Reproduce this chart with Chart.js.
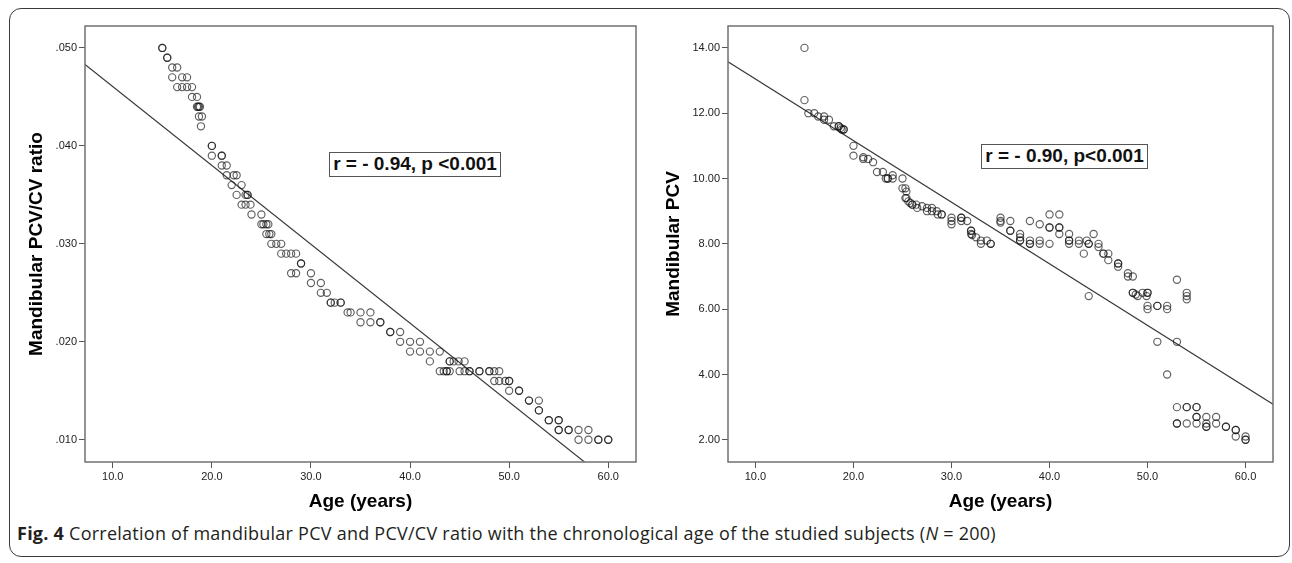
<!DOCTYPE html>
<html><head><meta charset="utf-8">
<script src="https://cdn.jsdelivr.net/npm/chart.js@4.4.1/dist/chart.umd.min.js"></script>
<style>
html,body{margin:0;padding:0;background:#fff;width:1292px;height:563px;overflow:hidden;}
#frame{position:absolute;left:9px;top:8px;width:1281px;height:549px;box-sizing:border-box;border:1.5px solid #3a3a3a;border-radius:12px;}
canvas{position:absolute;top:0;}
#c1{left:0;}
#c2{left:640px;}
.rbox{position:absolute;box-sizing:border-box;border:1.5px solid #555;background:#fff;font:bold 19px "Liberation Sans",Arial,sans-serif;color:#111;text-align:center;line-height:21px;white-space:nowrap;}
#cap{position:absolute;left:17px;top:523px;font:18px "Open Sans",sans-serif;letter-spacing:0.25px;line-height:20px;color:#231f20;white-space:nowrap;}
#cap b{font-weight:700;}
</style></head>
<body>
<div id="frame"></div>
<canvas id="c1" width="650" height="520"></canvas>
<canvas id="c2" width="652" height="520"></canvas>
<div class="rbox" style="left:329px;top:152px;width:172px;height:25px;">r = - 0.94, p &lt;0.001</div>
<div class="rbox" style="left:981px;top:144px;width:167px;height:25px;">r = - 0.90, p&lt;0.001</div>
<div id="cap"><b>Fig. 4</b> Correlation of mandibular PCV and PCV/CV ratio with the chronological age of the studied subjects (<i>N</i> = 200)</div>
<script>
// ---- Left panel: PCV/CV ratio, grouped by ratio level ----
const leftRatioLevels = [0.050,0.049,0.048,0.047,0.046,0.045,0.044,0.043,0.042,0.040,0.039,0.038,0.037,0.036,0.035,0.034,0.033,0.032,0.031,0.030,0.029,0.028,0.027,0.026,0.025,0.024,0.023,0.022,0.021,0.020,0.019,0.018,0.017,0.016,0.015,0.014,0.013,0.012,0.011,0.010];
const leftAgesAtLevel = [
  [15,15],[15.5,15.5],[16,16.5],[16,17,17.5],[16.5,17,17.5,18],[18,18.5],[18.5,18.6,18.7,18.8],[18.7,19],[18.9],
  [20,20],[20,21,21],[21,21.5],[21.5,22.2,22.5],[22,23],[22.5,23.4,23.6,23.6],[23,23.4,23.9],[24,25],
  [25,25.2,25.5,25.7],[25.5,25.8,26],[26,26.5,27],[27,27.5,28,28.5],[29,29],[28,28.5,30],[30,31],[31,31.6],
  [32,32,32.4,33,33],[33.7,34,35,36],[35,36,37,37],[38,38,39],[39,40,41],[40,41,42,43],
  [42,44,44,44.4,44.9,45.5],[43,43.4,43.7,43.7,44,45,45.5,46,46,47,47,48,48,48.5,49],
  [48.5,49,49.6,50,50],[50,51,51],[52,52,53],[53,53],[54,54,55,55],[55,55,56,56,57,58],[57,58,59,59,60,60]
];
// ---- Right panel: PCV ----
const rightAges = [15,15,15.4,16,16.4,17,17,17.5,18,18.5,18.5,18.7,18.8,19,19,
  20,20,21,21,21.5,22,22.4,23,23.3,23.5,23.5,24,24,
  25,25,25.3,25.4,25.3,25.4,25.6,25.8,26,26,26.4,26.5,27,27.5,27.5,28,28,28.5,28.6,29,29,
  30,30,30,31,31,31,31.6,32,32,32,32.1,32.5,33,33,33.6,34,34,
  35,35,35,36,36,36,37,37,37,37,38,38,38,38,39,39,39,
  40,40,40,40,41,41,41,41,42,42,42,42,43,43,43.5,43.8,44,44,44,44.5,
  45,45,45.5,45.5,46,46,47,47,47,48,48,48.5,48.5,48.5,48.8,49,49.5,50,50,49.9,
  50,50,51,51,52,52,53,54,54,54,51,53,52,
  53,54,54,55,55,55,55,56,57,53,53,54,55,56,57,56,56,58,58,59,59,59,60,60,60];
const rightPCV = [14.0,12.4,12.0,12.0,11.9,11.9,11.8,11.8,11.6,11.6,11.6,11.55,11.5,11.5,11.5,
  11.0,10.7,10.65,10.6,10.6,10.5,10.2,10.2,10.0,10.0,10.0,10.1,10.0,
  10.0,9.7,9.7,9.6,9.4,9.4,9.3,9.25,9.2,9.2,9.2,9.1,9.15,9.1,9.0,9.1,9.0,9.0,8.9,8.9,8.9,
  8.8,8.7,8.6,8.8,8.8,8.7,8.7,8.4,8.4,8.3,8.27,8.2,8.1,8.0,8.1,8.0,8.0,
  8.8,8.7,8.65,8.7,8.4,8.4,8.3,8.2,8.1,8.1,8.7,8.1,8.0,8.0,8.6,8.1,8.0,
  8.9,8.5,8.5,8.0,8.9,8.5,8.5,8.3,8.3,8.1,8.1,8.0,8.1,8.0,7.7,8.1,8.0,8.0,6.4,8.3,
  8.0,7.9,7.7,7.7,7.7,7.5,7.4,7.4,7.3,7.1,7.0,7.0,6.5,6.5,6.45,6.4,6.5,6.5,6.5,6.4,
  6.1,6.0,6.1,6.1,6.1,6.0,6.9,6.5,6.4,6.3,5.0,5.0,4.0,
  3.0,3.0,3.0,3.0,3.0,2.7,2.7,2.7,2.7,2.5,2.5,2.5,2.5,2.5,2.5,2.4,2.4,2.4,2.4,2.3,2.3,2.1,2.1,2.0,2.0];
// ---- Fit lines ----
const leftFit = {intercept: 0.0541, slope: -0.000805};
const rightFit = {intercept: 14.93, slope: -0.1885};
// ---- Axes ----
const xRange = [7.2, 62.8];
const xTickValues = [10,20,30,40,50,60];
const leftYRange = [0.00773, 0.05224];
const leftYTicks = [0.010,0.020,0.030,0.040,0.050];
const rightYRange = [1.32, 14.67];
const rightYTicks = [2,4,6,8,10,12,14];

const FONT = '"Liberation Sans", Arial, sans-serif';

const framePlugin = {
  id: 'frame',
  afterDraw(chart){
    const {ctx, chartArea:a} = chart;
    ctx.save();
    ctx.strokeStyle = '#707070';
    ctx.lineWidth = 1.5;
    ctx.strokeRect(a.left, a.top, a.right - a.left, a.bottom - a.top);
    ctx.restore();
  }
};

function build(id, pts, fit, yRange, yTicks, yDigits, yTitle, g){
  const lineData = xRange.map(x => ({x, y: fit.intercept + fit.slope * x}));
  return new Chart(document.getElementById(id), {
    type: 'scatter',
    data: { datasets: [
      { data: pts, pointStyle: 'circle', pointRadius: 3.6, pointHoverRadius: 3.6,
        borderWidth: 1.15, borderColor: 'rgba(20,20,20,0.68)', backgroundColor: 'rgba(0,0,0,0)' },
      { type: 'line', data: lineData, pointRadius: 0, borderColor: '#3a3a3a', borderWidth: 1.2, clip: 0 }
    ]},
    options: {
      responsive: false, animation: false, devicePixelRatio: 1,
      layout: { padding: { top: 26, right: g.right, left: 0, bottom: 0 } },
      plugins: { legend: { display: false }, tooltip: { enabled: false } },
      scales: {
        x: {
          type: 'linear', min: xRange[0], max: xRange[1],
          afterBuildTicks: s => { s.ticks = xTickValues.map(v => ({value: v})); },
          afterFit: s => { s.height = 58; },
          border: { display: false },
          grid: { drawOnChartArea: false, drawTicks: true, tickLength: 6, color: '#555', lineWidth: 1 },
          ticks: { autoSkip: false, maxRotation: 0, padding: 2, color: '#222',
                   font: { family: FONT, size: 11 }, callback: v => Number(v).toFixed(1) },
          title: { display: true, text: 'Age (years)', color: '#000',
                   font: { family: FONT, size: 19, weight: 'bold' }, padding: { top: 0, bottom: 6.6 } }
        },
        y: {
          type: 'linear', min: yRange[0], max: yRange[1],
          afterBuildTicks: s => { s.ticks = yTicks.map(v => ({value: v})); },
          afterFit: s => { s.width = g.yWidth; },
          border: { display: false },
          grid: { drawOnChartArea: false, drawTicks: true, tickLength: 6, color: '#555', lineWidth: 1 },
          ticks: { autoSkip: false, padding: 2, color: '#222', font: { family: FONT, size: 11 },
                   callback: v => { const s = Number(v).toFixed(yDigits); return yDigits === 3 ? s.replace(/^0/, '') : s; } },
          title: { display: true, text: yTitle, color: '#000',
                   font: { family: FONT, size: 19, weight: 'bold' }, padding: { top: g.titlePad, bottom: 0 } }
        }
      }
    },
    plugins: [framePlugin]
  });
}

const leftPts = [];
leftRatioLevels.forEach((r, i) => leftAgesAtLevel[i].forEach(a => leftPts.push({x: a, y: r})));
const rightPts = rightAges.map((a, i) => ({x: a, y: rightPCV[i]}));

build('c1', leftPts, leftFit, leftYRange, leftYTicks, 3, 'Mandibular PCV/CV ratio', {right: 14, yWidth: 85, titlePad: 25.6});
build('c2', rightPts, rightFit, rightYRange, rightYTicks, 2, 'Mandibular PCV', {right: 19, yWidth: 88, titlePad: 22.6});
</script>
</body></html>
